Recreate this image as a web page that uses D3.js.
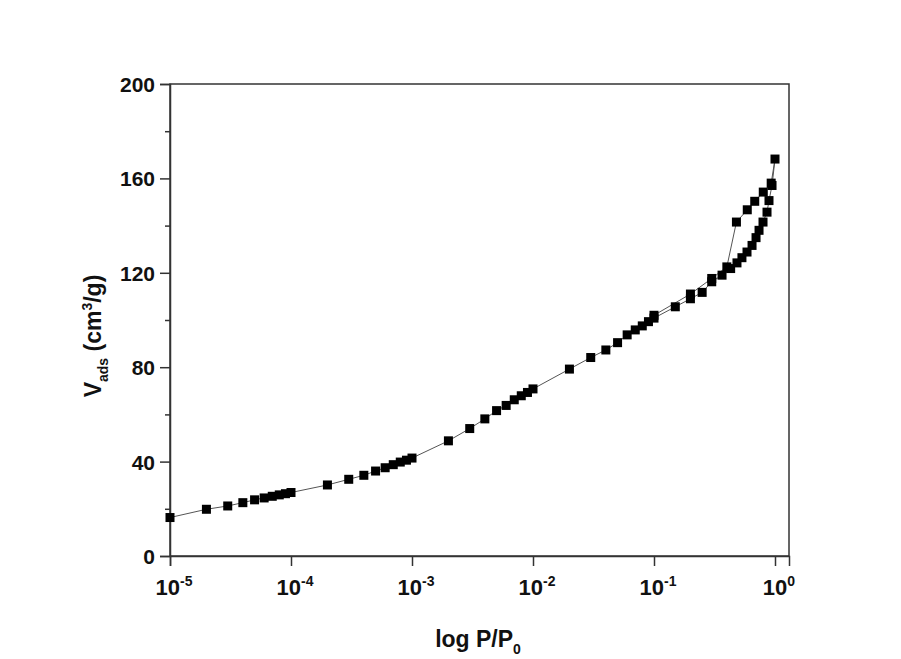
<!DOCTYPE html>
<html>
<head>
<meta charset="utf-8">
<script src="https://cdn.jsdelivr.net/npm/d3@7"></script>
<style>
  body { margin: 0; background: #fff; }
  svg text { font-family: "Liberation Sans", Arial, sans-serif; font-weight: bold; fill: #111; }
</style>
</head>
<body>
<div id="chart"></div>
<script>
// adsorption branch
const adsX = [1e-5, 2e-5, 3e-5, 4e-5, 5e-5, 6e-5, 7e-5, 8e-5, 9e-5,
  1e-4, 2e-4, 3e-4, 4e-4, 5e-4, 6e-4, 7e-4, 8e-4, 9e-4,
  1e-3, 2e-3, 3e-3, 4e-3, 5e-3, 6e-3, 7e-3, 8e-3, 9e-3,
  1e-2, 2e-2, 3e-2, 4e-2, 5e-2, 6e-2, 7e-2, 8e-2, 9e-2,
  0.1, 0.15, 0.2, 0.25, 0.3, 0.365, 0.43, 0.485, 0.533, 0.587,
  0.646, 0.697, 0.738, 0.796, 0.859, 0.892, 0.945, 1.0];
const adsY = [16.3, 19.8, 21.2, 22.6, 23.8, 24.6, 25.3, 25.9, 26.4,
  26.9, 30.1, 32.5, 34.2, 36.0, 37.4, 38.7, 39.8, 40.6,
  41.5, 48.8, 54.0, 58.1, 61.6, 63.8, 66.2, 67.9, 69.3,
  70.8, 79.2, 84.1, 87.3, 90.4, 93.7, 95.8, 97.5, 99.3,
  100.8, 105.6, 109.0, 111.7, 116.2, 119.0, 121.8, 124.2, 126.4, 128.8,
  131.6, 134.9, 138.0, 141.5, 145.7, 150.6, 157.0, 168.2];
// desorption branch
const desX = [1.0, 0.93, 0.80, 0.68, 0.59, 0.48, 0.40, 0.30, 0.20, 0.10];
const desY = [168.2, 158.0, 154.2, 150.3, 146.7, 141.5, 122.5, 117.6, 111.0, 102.0];

const yMajor = [0, 40, 80, 120, 160, 200];
const yMinor = [20, 60, 100, 140, 180];
const xTicks = [1e-5, 1e-4, 1e-3, 1e-2, 1e-1, 1];
const xExp = ["-5", "-4", "-3", "-2", "-1", "0"];

const W = 901, H = 659;
const pLeft = 170, pRight = 789, pTop = 84, pBottom = 556;

const svg = d3.select("#chart").append("svg")
  .attr("width", W).attr("height", H);

const x = d3.scaleLog().domain([1e-5, Math.pow(10, 0.1157)]).range([pLeft, pRight]);
const y = d3.scaleLinear().domain([0, 200]).range([pBottom, pTop]);

// frame
svg.append("rect")
  .attr("x", pLeft).attr("y", pTop)
  .attr("width", pRight - pLeft).attr("height", pBottom - pTop)
  .attr("fill", "none").attr("stroke", "#333").attr("stroke-width", 1.5);

// y axis
const yAxis = svg.append("g").attr("transform", `translate(${pLeft},0)`)
  .call(d3.axisLeft(y).tickValues(yMajor).tickSize(10).tickPadding(5));
svg.append("g").attr("transform", `translate(${pLeft},0)`)
  .call(d3.axisLeft(y).tickValues(yMinor).tickSize(5).tickFormat(""))
  .call(g => g.select(".domain").remove());

// x axis
svg.append("g").attr("transform", `translate(0,${pBottom})`)
  .call(d3.axisBottom(x).tickValues(xTicks).tickSize(10).tickFormat(""));

svg.selectAll(".domain").attr("stroke", "#333").attr("stroke-width", 1.5);
svg.selectAll(".tick line").attr("stroke", "#333").attr("stroke-width", 1.5);
yAxis.selectAll(".tick text").style("font-size", "21px").style("font-family", "Liberation Sans, Arial, sans-serif")
  .style("font-weight", "bold").attr("fill", "#111").attr("dy", "0.36em");

// x tick labels with superscripts
const xl = svg.append("g");
xTicks.forEach((t, i) => {
  const txt = xl.append("text")
    .attr("x", x(t) + 4).attr("y", pBottom + 39)
    .attr("text-anchor", "middle")
    .style("font-size", "22px");
  txt.append("tspan").text("10");
  txt.append("tspan").text(xExp[i]).attr("dy", -9).style("font-size", "14px");
});

// lines
const line = d3.line().x(d => x(d[0])).y(d => y(d[1]));
const ads = adsX.map((v, i) => [v, adsY[i]]);
const des = desX.map((v, i) => [v, desY[i]]);
[ads, des].forEach(data => {
  svg.append("path").datum(data)
    .attr("d", line).attr("fill", "none")
    .attr("stroke", "#555").attr("stroke-width", 1);
});

// markers
const s = 9;
svg.append("g").selectAll("rect")
  .data(ads.concat(des.slice(1)))
  .join("rect")
  .attr("x", d => x(d[0]) - s / 2).attr("y", d => y(d[1]) - s / 2)
  .attr("width", s).attr("height", s).attr("fill", "#000");

// axis titles
const xt = svg.append("text")
  .attr("x", 478).attr("y", 647).attr("text-anchor", "middle")
  .style("font-size", "23px");
xt.append("tspan").text("log P/P");
xt.append("tspan").text("0").attr("dy", 7).style("font-size", "14px");

const yt = svg.append("text")
  .attr("transform", "translate(101,336) rotate(-90)")
  .attr("text-anchor", "middle")
  .style("font-size", "23px");
yt.append("tspan").text("V");
yt.append("tspan").text("ads").attr("dy", 7).style("font-size", "14px");
yt.append("tspan").text(" (cm").attr("dy", -7);
yt.append("tspan").text("3").attr("dy", -9).style("font-size", "14px");
yt.append("tspan").text("/g)").attr("dy", 9);
</script>
</body>
</html>
